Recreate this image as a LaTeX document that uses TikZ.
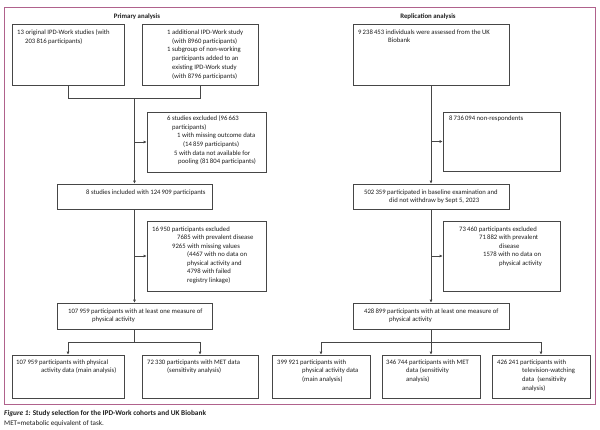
\documentclass[tikz,border=0pt]{standalone}
\usepackage{fontspec}
\setmainfont{Carlito}
\usetikzlibrary{arrows.meta}
\definecolor{framec}{RGB}{176,98,140}
\definecolor{linec}{RGB}{70,70,70}
\definecolor{txtc}{RGB}{30,30,30}
\begin{document}
\begin{tikzpicture}[x=1pt,y=-1pt,
  box/.style={draw=linec, line width=0.6pt, inner sep=0pt},
  txt/.style={anchor=north west, inner sep=0pt, align=left, font=\fontsize{6.7}{8.6}\selectfont, text=txtc},
  conn/.style={draw=linec, line width=0.6pt},
  arr/.style={conn, -{Latex[length=3pt,width=3pt]}},
  head/.style={font=\fontsize{6.8}{8}\selectfont\bfseries, text=txtc, inner sep=0pt}]
\useasboundingbox (0,0) rectangle (600,429);
\fill[white] (0,0) rectangle (600,429);
\draw[framec, line width=0.7pt] (4,7) rectangle (595,404);

\node[head] (h1) at (137,17) {Primary analysis};
\node[head] (h2) at (428,17) {Replication analysis};

% left boxes
\node[box, minimum width=112pt, minimum height=61pt] (a1) at (68,54.5) {};
\node[box, minimum width=116pt, minimum height=61pt] (a2) at (200,54.5) {};
\node[box, minimum width=119pt, minimum height=60pt] (e1) at (206.5,142) {};
\node[box, minimum width=155pt, minimum height=25pt] (b) at (134.5,196.5) {};
\node[box, minimum width=119pt, minimum height=70pt] (e2) at (206.5,256) {};
\node[box, minimum width=155pt, minimum height=26pt] (c) at (134.5,316) {};
\node[box, minimum width=112pt, minimum height=43pt] (d1) at (68,376.5) {};
\node[box, minimum width=116pt, minimum height=43pt] (d2) at (200,376.5) {};

% right boxes
\node[box, minimum width=156pt, minimum height=61pt] (r1) at (431,54.5) {};
\node[box, minimum width=117pt, minimum height=59pt] (re1) at (501.5,141.5) {};
\node[box, minimum width=156pt, minimum height=25pt] (r2) at (431,196.5) {};
\node[box, minimum width=117pt, minimum height=70pt] (re2) at (501.5,256) {};
\node[box, minimum width=156pt, minimum height=26pt] (r3) at (431,316) {};
\node[box, minimum width=98pt, minimum height=43pt] (rb1) at (321,376.5) {};
\node[box, minimum width=98pt, minimum height=43pt] (rb2) at (431,376.5) {};
\node[box, minimum width=98pt, minimum height=43pt] (rb3) at (541,376.5) {};

% texts
\node[txt] (ta1) at (17,29.5) {13 original IPD-Work studies (with\\\hspace*{8pt}203\,816 participants)};
\node[txt, font=\fontsize{6.7}{8.8}\selectfont] (ta2) at (167,29.5) {1 additional IPD-Work study\\\hspace*{5pt}(with 8960 participants)\\1 subgroup of non-working\\\hspace*{5pt}participants added to an\\\hspace*{5pt}existing IPD-Work study\\\hspace*{5pt}(with 8796 participants)};
\node[txt] (te1) at (167,115.5) {6 studies excluded (96\,663\\\hspace*{5pt}participants)\\\hspace*{10pt}1 with missing outcome data\\\hspace*{16pt}(14\,859 participants)\\\hspace*{7pt}5 with data not available for\\\hspace*{11pt}pooling (81\,804 participants)};
\node[txt] (tb) at (86,189.5) {8 studies included with 124\,909 participants};
\node[txt, font=\fontsize{6.7}{8.5}\selectfont] (te2) at (152,226.5) {16\,950 participants excluded\\\hspace*{25pt}7685 with prevalent disease\\\hspace*{20pt}9265 with missing values\\\hspace*{35pt}(4467 with no data on\\\hspace*{35pt}physical activity and\\\hspace*{35pt}4798 with failed\\\hspace*{35pt}registry linkage)};
\node[txt] (tc) at (68,308.5) {107\,959 participants with at least one measure of\\\hspace*{24pt}physical activity};
\node[txt] (td1) at (16,359.5) {107\,959 participants with physical\\\hspace*{25pt}activity data (main analysis)};
\node[txt] (td2) at (147,359.5) {72\,330 participants with MET data\\\hspace*{20pt}(sensitivity analysis)};

\node[txt] (tr1) at (358,29.5) {9\,238\,453 individuals were assessed from the UK\\\hspace*{30pt}Biobank};
\node[txt] (tre1) at (449,115.5) {8\,736\,094 non-respondents};
\node[txt] (tr2) at (364,189.5) {502\,359 participated in baseline examination and\\\hspace*{25pt}did not withdraw by Sept 5, 2023};
\node[txt, font=\fontsize{6.7}{8.5}\selectfont] (tre2) at (459,226.5) {73\,460 participants excluded\\\hspace*{20pt}71\,882 with prevalent\\\hspace*{40pt}disease\\\hspace*{24pt}1578 with no data on\\\hspace*{40pt}physical activity};
\node[txt] (tr3) at (364,308.5) {428\,899 participants with at least one measure of\\\hspace*{25pt}physical activity};
\node[txt] (trb1) at (277,359.5) {399\,921 participants with\\\hspace*{25pt}physical activity data\\\hspace*{25pt}(main analysis)};
\node[txt] (trb2) at (386,359.5) {346\,744 participants with MET\\\hspace*{20pt}data (sensitivity\\\hspace*{20pt}analysis)};
\node[txt] (trb3) at (497,359.5) {426\,241 participants with\\\hspace*{25pt}television-watching\\\hspace*{25pt}data\ \ (sensitivity\\\hspace*{25pt}analysis)};

% left connectors
\draw[conn] (a1.south) -- ++(0,13) -| (a2.south);
\coordinate (j1) at (134.5,98);
\draw[arr] (j1) -- (b.north);
\draw[arr] (j1 |- e1.west) -- (e1.west);
\draw[arr] (b.south) -- (c.north);
\draw[arr] (b.south |- e2.west) -- (e2.west);
\draw[conn] (c.south) -- ++(0,13) coordinate (j2);
\draw[arr] (j2) -| (d1.north);
\draw[arr] (j2) -| (d2.north);

% right connectors
\draw[arr] (r1.south) -- (r2.north);
\draw[arr] (r1.south |- re1.west) -- (re1.west);
\draw[arr] (r2.south) -- (r3.north);
\draw[arr] (r2.south |- re2.west) -- (re2.west);
\draw[conn] (r3.south) -- ++(0,13) coordinate (j3);
\draw[arr] (j3) -| (rb1.north);
\draw[arr] (j3) -- (rb2.north);
\draw[arr] (j3) -| (rb3.north);

% caption
\node[anchor=west, inner sep=0pt, font=\fontsize{7.3}{8}\selectfont\bfseries, text=txtc] (cap) at (4,414) {\textit{Figure 1:} Study selection for the IPD-Work cohorts and UK Biobank};
\node[anchor=west, inner sep=0pt, font=\fontsize{7.1}{8}\selectfont, text=txtc] (note) at (4,424) {MET=metabolic equivalent of task.};
\end{tikzpicture}
\end{document}
